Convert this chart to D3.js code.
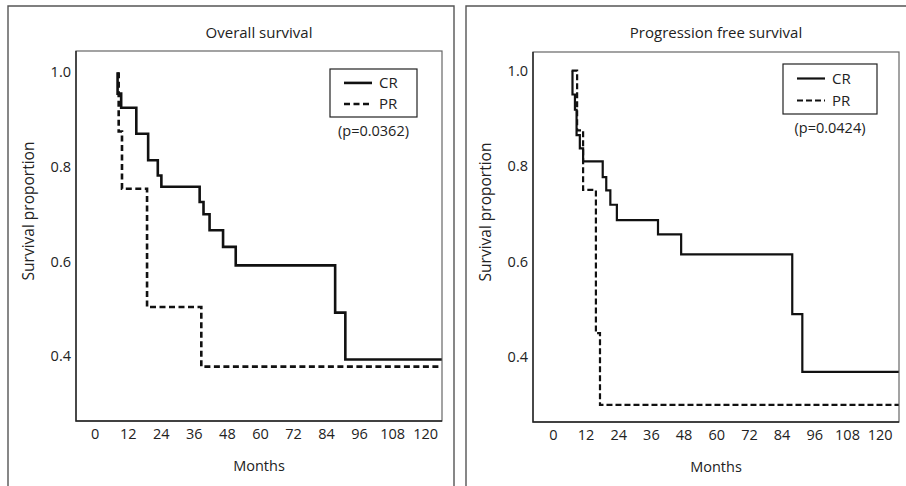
<!DOCTYPE html>
<html>
<head>
<meta charset="utf-8">
<script src="https://cdn.jsdelivr.net/npm/d3@7"></script>
<style>
  html, body { margin: 0; padding: 0; background: #fff; }
  svg { display: block; font-family: "Open Sans", Lato, sans-serif; }
</style>
</head>
<body>
<div id="chart"></div>
<script>
// tick labels
const xTicks = [0, 12, 24, 36, 48, 60, 72, 84, 96, 108, 120];
const yTicks = [0.4, 0.6, 0.8, 1.0];
const seriesNames = ['CR', 'PR'];

// overall survival (months, proportion)
const osCrMonths = [8.3, 8.3, 9.6, 15.1, 19.4, 22.9, 24.2, 38.1, 39.5, 41.7, 46.6, 51.2, 87.3, 91.0, 126];
const osCrSurv   = [1.0, 0.955, 0.925, 0.87, 0.814, 0.782, 0.758, 0.726, 0.700, 0.666, 0.631, 0.592, 0.492, 0.393, 0.393];
const osPrMonths = [8.7, 8.7, 9.9, 19.0, 38.7, 126];
const osPrSurv   = [1.0, 0.875, 0.754, 0.504, 0.378, 0.378];

// progression free survival
const pfsCrMonths = [7.2, 7.2, 8.1, 8.7, 9.9, 11.1, 18.3, 19.6, 21.1, 23.5, 38.6, 47.1, 87.9, 91.6, 127];
const pfsCrSurv   = [1.0, 0.95, 0.918, 0.865, 0.837, 0.81, 0.777, 0.749, 0.719, 0.687, 0.657, 0.615, 0.49, 0.369, 0.369];
const pfsPrMonths = [6.9, 8.9, 11.1, 15.8, 17.3, 127];
const pfsPrSurv   = [1.0, 0.875, 0.75, 0.45, 0.30, 0.30];

const titles = ['Overall survival', 'Progression free survival'];
const pValues = ['(p=0.0362)', '(p=0.0424)'];

const zip = (xs, ys) => xs.map((x, i) => [x, ys[i]]);

const W = 906, H = 486;
const FONT = '"Open Sans", Lato, sans-serif';
const svg = d3.select('#chart').append('svg').attr('width', W).attr('height', H);

const panels = [
  {
    title: titles[0], p: pValues[0],
    series: [zip(osCrMonths, osCrSurv), zip(osPrMonths, osPrSurv)],
    frame: { x0: 8, x1: 454 }, plot: { l: 76, r: 442, t: 51, b: 421 },
    xDom: [-6.8, 126.1], yDom: [0.263, 1.045],
    legend: { x: 330, y: 69, w: 87, h: 48 }, dash: '6,3.5', sw: 2.6,
  },
  {
    title: titles[1], p: pValues[1],
    series: [zip(pfsCrMonths, pfsCrSurv), zip(pfsPrMonths, pfsPrSurv)],
    frame: { x0: 466, x1: 912 }, plot: { l: 533, r: 899, t: 52, b: 422 },
    xDom: [-7.3, 127.1], yDom: [0.264, 1.039],
    legend: { x: 783, y: 64, w: 94, h: 50 }, dash: '6,3', sw: 2.2,
  },
];

panels.forEach(pn => {
  const g = svg.append('g');
  const { l, r, t, b } = pn.plot;
  const x = d3.scaleLinear().domain(pn.xDom).range([l, r]);
  const y = d3.scaleLinear().domain(pn.yDom).range([b, t]);
  const cx = (l + r) / 2;

  // outer frame (open at the bottom)
  g.append('path')
    .attr('d', `M${pn.frame.x0},${H}V6H${pn.frame.x1}V${H}`)
    .attr('fill', 'none').attr('stroke', '#555').attr('stroke-width', 1.4);

  g.append('text').attr('x', cx).attr('y', 38).attr('text-anchor', 'middle')
    .attr('font-size', 15).attr('fill', '#222').text(pn.title);

  // plot box
  g.append('rect').attr('x', l).attr('y', t).attr('width', r - l).attr('height', b - t)
    .attr('fill', 'none').attr('stroke', '#666').attr('stroke-width', 1.2);
  g.append('path').attr('d', `M${l},${t}V${b}H${r}`)
    .attr('fill', 'none').attr('stroke', '#222').attr('stroke-width', 1.4);

  const xAxis = g.append('g').attr('transform', `translate(0,${b})`)
    .call(d3.axisBottom(x).tickValues(xTicks).tickSize(0).tickPadding(8));
  const yAxis = g.append('g').attr('transform', `translate(${l},0)`)
    .call(d3.axisLeft(y).tickValues(yTicks).tickSize(0).tickPadding(5).tickFormat(d3.format('.1f')));
  [xAxis, yAxis].forEach(a => {
    a.select('.domain').remove();
    a.selectAll('text').attr('font-size', 14.5).attr('fill', '#222').style('font-family', FONT);
  });

  g.append('text').attr('x', cx).attr('y', b + 50).attr('text-anchor', 'middle')
    .attr('font-size', 14.5).attr('fill', '#222').text('Months');
  g.append('text')
    .attr('transform', `translate(${l - 42},${(t + b) / 2 - 25}) rotate(-90)`)
    .attr('text-anchor', 'middle').attr('font-size', 15.5).attr('fill', '#222')
    .text('Survival proportion');

  const line = d3.line().x(d => x(d[0])).y(d => y(d[1])).curve(d3.curveStepAfter);
  pn.series.forEach((s, i) => {
    g.append('path').datum(s).attr('d', line)
      .attr('fill', 'none').attr('stroke', '#111').attr('stroke-width', pn.sw)
      .attr('stroke-dasharray', i ? pn.dash : null);
  });

  // legend
  const lg = pn.legend;
  g.append('rect').attr('x', lg.x).attr('y', lg.y).attr('width', lg.w).attr('height', lg.h)
    .attr('fill', '#fff').attr('stroke', '#222').attr('stroke-width', 1.2);
  seriesNames.forEach((name, i) => {
    const ly = lg.y + lg.h * (i === 0 ? 0.29 : 0.73);
    g.append('line').attr('x1', lg.x + 14).attr('x2', lg.x + 42).attr('y1', ly).attr('y2', ly)
      .attr('stroke', '#111').attr('stroke-width', pn.sw)
      .attr('stroke-dasharray', i ? pn.dash : null);
    g.append('text').attr('x', lg.x + 49).attr('y', ly).attr('dy', '0.35em')
      .attr('font-size', 15).attr('fill', '#222').text(name);
  });
  g.append('text').attr('x', lg.x + lg.w / 2).attr('y', lg.y + lg.h + 19)
    .attr('text-anchor', 'middle').attr('font-size', 14.5).attr('fill', '#222').text(pn.p);
});
</script>
</body>
</html>
